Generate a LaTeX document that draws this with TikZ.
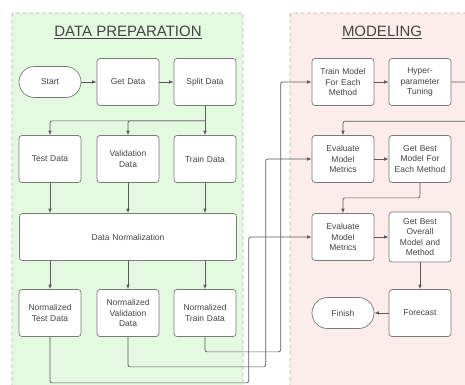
\documentclass[tikz,border=0pt]{standalone}
\usepackage{fontspec}
\setmainfont{Liberation Sans}
\usepackage{tikz}
\usetikzlibrary{arrows.meta,positioning,calc}

\definecolor{prepfill}{HTML}{E3F9E0}
\definecolor{modelfill}{HTML}{FDECEC}
\definecolor{panelline}{HTML}{B8B8B8}
\definecolor{boxline}{HTML}{7A7A7A}
\definecolor{wire}{HTML}{5A5A5A}
\definecolor{ink}{HTML}{444444}

\begin{document}
\begin{tikzpicture}[
    x=1pt, y=1pt,
    % --- STYLES ---
    process/.style={
        rectangle, rounded corners=3pt,
        draw=boxline, fill=white, line width=0.7pt,
        minimum width=62pt, minimum height=47pt,
        text width=56pt, align=center,
        font=\fontsize{8.5}{10.3}\selectfont, text=ink,
        inner sep=2pt
    },
    terminal/.style={
        rectangle, rounded corners=15.5pt,
        draw=boxline, fill=white, line width=0.7pt,
        minimum width=62pt, minimum height=31pt,
        font=\fontsize{8.5}{10.3}\selectfont, text=ink
    },
    panel/.style={draw=panelline, dashed, dash pattern=on 4pt off 2.5pt, line width=0.9pt, rounded corners=3pt},
    heading/.style={font=\fontsize{15}{18}\selectfont, text=ink},
    control/.style={->, draw=wire, line width=0.7pt, >={Latex[length=4.5pt,width=3.5pt]}, rounded corners=2pt}
]

\useasboundingbox (0,0) rectangle (465,384);
\clip (0,0) rectangle (465,384);

% ===== 1. COLUMNS, ROWS & PANELS =====
\def\xA{50}  \def\xB{128} \def\xC{205}
\def\xD{343} \def\xE{420}
\def\yA{302} \def\yB{225} \def\yC{147} \def\yD{71}

\fill[prepfill] (12,-10) rectangle (243,371);
\draw[panel] (12,-10) -- (12,371) -- (243,371) -- (243,-10);
\fill[modelfill] (290,-10) rectangle (480,371);
\draw[panel] (290,-10) -- (290,371) -- (480,371);

\node[heading] (prephead) at (128,352) {\underline{DATA PREPARATION}};
\node[heading] (modelhead) at (382,352) {\underline{MODELING}};

% ===== 2. DATA PREPARATION NODES =====
\node[terminal] (start) at (\xA,\yA) {Start};
\node[process] (get) at (\xB,\yA) {Get Data};
\node[process] (split) at (\xC,\yA) {Split Data};

\node[process] (test) at (\xA,\yB) {Test Data};
\node[process] (valid) at (\xB,\yB) {Validation\\ Data};
\node[process] (train) at (\xC,\yB) {Train Data};

\node[process, minimum width=217pt, text width=200pt] (norm) at (\xB,\yC) {Data Normalization};

\node[process] (ntest) at (\xA,\yD) {Normalized\\ Test Data};
\node[process] (nvalid) at (\xB,\yD) {Normalized\\ Validation\\ Data};
\node[process] (ntrain) at (\xC,\yD) {Normalized\\ Train Data};

% ===== 3. MODELING NODES =====
\node[process] (trainm) at (\xD,\yA) {Train Model\\ For Each\\ Method};
\node[process] (tune) at (\xE,\yA) {Hyper-\\ parameter\\ Tuning};

\node[process] (eval1) at (\xD,\yB) {Evaluate\\ Model\\ Metrics};
\node[process] (bestm) at (\xE,\yB) {Get Best\\ Model For\\ Each Method};

\node[process] (eval2) at (\xD,\yC) {Evaluate\\ Model\\ Metrics};
\node[process, minimum height=50pt] (besto) at (\xE,\yC) {Get Best\\ Overall\\ Model and\\ Method};

\node[terminal] (finish) at (\xD,\yD) {Finish};
\node[process] (forecast) at (\xE,\yD) {Forecast};

% ===== 4. CONNECTIONS =====
\draw[control] (start) -- (get);
\draw[control] (get) -- (split);

% fan out of the split
\coordinate (fork) at ($(split.south)+(0,-15)$);
\draw[control, -] (split.south) -- (fork);
\draw[control] (fork) -| (test.north);
\draw[control] (fork) -| (valid.north);
\draw[control] (fork) -- (train.north);

\draw[control] (test) -- (test |- norm.north);
\draw[control] (valid) -- (valid |- norm.north);
\draw[control] (train) -- (train |- norm.north);

\draw[control] (ntest |- norm.south) -- (ntest);
\draw[control] (nvalid |- norm.south) -- (nvalid);
\draw[control] (ntrain |- norm.south) -- (ntrain);

% normalized sets cross over to the modeling lane
\draw[control] (ntrain.south) -- ++(0,-15) -| ([xshift=-31pt]trainm.west) -- (trainm.west);
\draw[control] (nvalid.south) -- ++(0,-30) -| ([xshift=-46pt]eval1.west) -- (eval1.west);
\draw[control] (ntest.south) -- ++(0,-46) -| ([xshift=-63pt]eval2.west) -- (eval2.west);

% modeling flow
\draw[control] (trainm) -- (tune);
\draw[control] (tune.east) -- ++(30,0) |- ([yshift=14pt]eval1.north) -- (eval1.north);
\draw[control] (eval1) -- (bestm);
\draw[control] (bestm.south) -- ++(0,-15) -| (eval2.north);
\draw[control] (eval2) -- (besto);
\draw[control] (besto) -- (forecast);
\draw[control] (forecast) -- (finish);

\end{tikzpicture}
\end{document}
